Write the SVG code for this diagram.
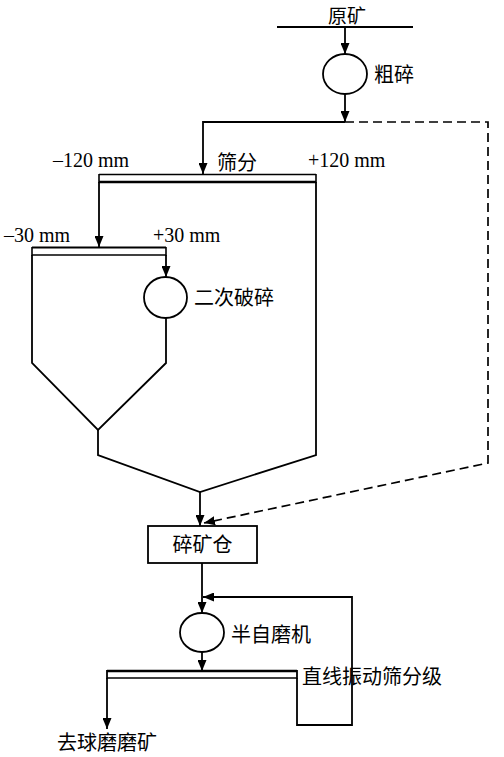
<svg xmlns="http://www.w3.org/2000/svg" width="504" height="757" viewBox="0 0 504 757">
<style>
.ln{fill:none;stroke:#000;stroke-width:1.8}
.dash{fill:none;stroke:#000;stroke-width:1.7;stroke-dasharray:9,5}
.eq{fill:#fff;stroke:#000;stroke-width:1.8}
.cj{font-family:"Noto Sans CJK SC","Liberation Serif",serif;font-size:20px;fill:#000}
.lt{font-family:"Liberation Serif","Noto Sans CJK SC",serif;font-size:20px;fill:#000}
</style>
<defs>
<marker id="ah" markerWidth="11" markerHeight="9" refX="11" refY="4.5" orient="auto" markerUnits="userSpaceOnUse">
<path d="M0,0 L11,4.5 L0,9 Z" fill="#000"/>
</marker>
</defs>
<rect width="504" height="757" fill="#fff"/>
<g id="connectors">
<line class="ln" x1="277" y1="27" x2="413" y2="27"/>
<line class="ln" x1="345" y1="27" x2="345" y2="54" marker-end="url(#ah)"/>
<line class="ln" x1="345" y1="94" x2="345" y2="122" marker-end="url(#ah)"/>
<polyline class="ln" points="345,122 203,122 203,174" marker-end="url(#ah)"/>
<polyline class="dash" points="345,122 488,122 488,463 204,523" marker-end="url(#ah)"/>
<line class="ln" x1="99" y1="182" x2="99" y2="247" marker-end="url(#ah)"/>
<line class="ln" x1="166" y1="255" x2="166" y2="277" marker-end="url(#ah)"/>
<polyline class="ln" points="32,255 32,363 98,430 166,363 166,318"/>
<polyline class="ln" points="98,430 98,455 200,492 316,455 316,182"/>
<line class="ln" x1="200" y1="492" x2="200" y2="526" marker-end="url(#ah)"/>
<line class="ln" x1="202" y1="563" x2="202" y2="613" marker-end="url(#ah)"/>
<polyline class="ln" points="297,678 297,725 352,725 352,597 203,597" marker-end="url(#ah)"/>
<line class="ln" x1="202" y1="652" x2="202" y2="671" marker-end="url(#ah)"/>
<line class="ln" x1="107" y1="678" x2="107" y2="729" marker-end="url(#ah)"/>
</g>
<g id="feed"><text class="cj" x="347" y="22.5" text-anchor="middle" style="font-size:19px">原矿</text></g>
<g id="primary-crusher">
<ellipse class="eq" cx="345" cy="74" rx="22" ry="20"/>
<text class="cj" x="374" y="82">粗碎</text>
</g>
<g id="screen1">
<line x1="99" y1="174.5" x2="316" y2="174.5" stroke="#000" stroke-width="1.3"/>
<line x1="99" y1="182" x2="316" y2="182" stroke="#000" stroke-width="2.4"/>
<line x1="99" y1="174" x2="99" y2="183" stroke="#000" stroke-width="1.6"/>
<line x1="316" y1="174" x2="316" y2="183" stroke="#000" stroke-width="1.6"/>
<text class="cj" x="217" y="170">筛分</text>
<text class="lt" x="53" y="167">–120 mm</text>
<text class="lt" x="308" y="167">+120 mm</text>
</g>
<g id="screen2">
<line x1="32" y1="247.5" x2="166" y2="247.5" stroke="#000" stroke-width="2.2"/>
<line x1="32" y1="255" x2="166" y2="255" stroke="#000" stroke-width="1.3"/>
<line x1="32" y1="247" x2="32" y2="256" stroke="#000" stroke-width="1.6"/>
<line x1="166" y1="247" x2="166" y2="256" stroke="#000" stroke-width="1.6"/>
<text class="lt" x="4" y="242">–30 mm</text>
<text class="lt" x="153" y="242">+30 mm</text>
</g>
<g id="secondary-crusher">
<ellipse class="eq" cx="165.5" cy="297.5" rx="21.5" ry="20.5"/>
<text class="cj" x="194" y="305">二次破碎</text>
</g>
<g id="bin">
<rect class="eq" x="148" y="526" width="109" height="37"/>
<text class="cj" x="202.5" y="552" text-anchor="middle">碎矿仓</text>
</g>
<g id="sag-mill">
<ellipse class="eq" cx="202" cy="632.5" rx="22" ry="19.5"/>
<text class="cj" x="231" y="642">半自磨机</text>
</g>
<g id="screen3">
<line x1="107" y1="671" x2="297" y2="671" stroke="#000" stroke-width="2.4"/>
<line x1="107" y1="678" x2="297" y2="678" stroke="#000" stroke-width="1.3"/>
<line x1="107" y1="670" x2="107" y2="679" stroke="#000" stroke-width="1.8"/>
<line x1="297" y1="670" x2="297" y2="679" stroke="#000" stroke-width="1.8"/>
<text class="cj" x="302" y="684">直线振动筛分级</text>
</g>
<g id="output"><text class="cj" x="57" y="750">去球磨磨矿</text></g>
</svg>
